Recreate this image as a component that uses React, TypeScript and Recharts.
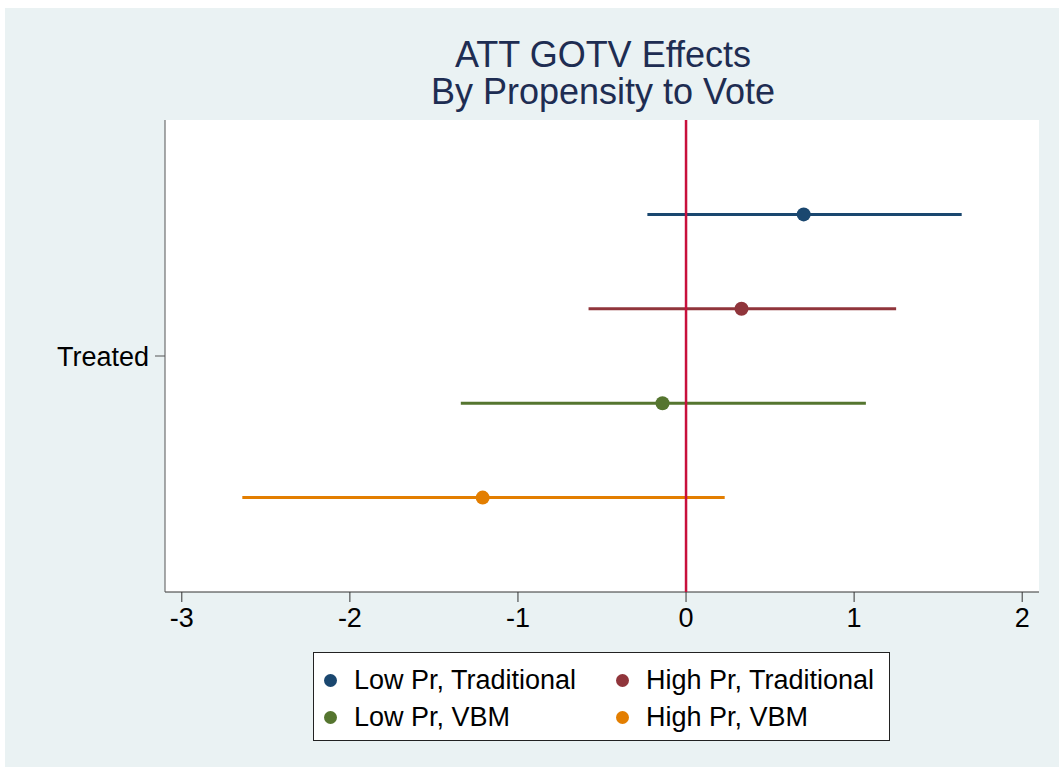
import React from 'react';
import { ComposedChart, Scatter, XAxis, YAxis, CartesianGrid } from 'recharts';

const seriesNames = ['Low Pr, Traditional', 'High Pr, Traditional', 'Low Pr, VBM', 'High Pr, VBM'];
const estimates = [0.70, 0.33, -0.14, -1.21];
const lowerCI = [-0.23, -0.58, -1.34, -2.64];
const upperCI = [1.64, 1.25, 1.07, 0.23];
const rowIndex = [4, 3, 2, 1];
const seriesColors = ['#1a476f', '#90353b', '#55752f', '#e37e00'];
const xTicks = [-3, -2, -1, 0, 1, 2];
const yTicks = [2.5];
const yTickLabels = ['Treated'];
const zeroLine = [{ x: 0, y: 0 }, { x: 0, y: 5 }];

const FONT = '"Liberation Sans", Arial, Helvetica, sans-serif';

const App: React.FC = () => {
  const points = seriesNames.map((name, i) => ({ name, x: estimates[i], y: rowIndex[i] }));
  const intervals = seriesNames.map((name, i) => [
    { x: lowerCI[i], y: rowIndex[i] },
    { x: upperCI[i], y: rowIndex[i] },
  ]);

  return (
    <div style={{ position: 'absolute', left: 0, top: 0, width: 1059, height: 767, background: '#fff', fontFamily: FONT }}>
      <div style={{ position: 'absolute', left: 5, top: 8, width: 1054, height: 759, background: '#eaf2f3' }} />
      <div
        style={{
          position: 'absolute', left: 165, width: 876, top: 36, textAlign: 'center',
          fontSize: 36, lineHeight: '37px', color: '#1e2d52',
        }}
      >
        <div>ATT GOTV Effects</div>
        <div>By Propensity to Vote</div>
      </div>
      <div style={{ position: 'absolute', left: 0, top: 0 }}>
        <ComposedChart width={1059} height={767} margin={{ top: 120, right: 20, left: 0, bottom: 135 }}>
          <CartesianGrid horizontal={false} vertical={false} fill="#ffffff" />
          <XAxis
            type="number"
            dataKey="x"
            domain={[-3.1, 2.1]}
            ticks={xTicks}
            allowDataOverflow
            height={40}
            tickSize={10}
            tickMargin={6}
            stroke="#333"
            tick={{ fill: '#000', fontSize: 27, fontFamily: FONT }}
          />
          <YAxis
            type="number"
            dataKey="y"
            domain={[0, 5]}
            ticks={yTicks}
            tickFormatter={(v: number) => yTickLabels[yTicks.indexOf(v)] ?? ''}
            width={165}
            tickSize={10}
            tickMargin={6}
            stroke="#555"
            tick={{ fill: '#000', fontSize: 27, fontFamily: FONT }}
          />
          {intervals.map((seg, i) => (
            <Scatter
              key={`ci-${i}`}
              data={seg}
              line={{ stroke: seriesColors[i], strokeWidth: 3 }}
              shape={() => <g />}
              isAnimationActive={false}
            />
          ))}
          <Scatter
            data={zeroLine}
            line={{ stroke: '#c8103c', strokeWidth: 2.5 }}
            shape={() => <g />}
            isAnimationActive={false}
          />
          {points.map((d, i) => (
            <Scatter
              key={d.name}
              name={d.name}
              data={[d]}
              fill={seriesColors[i]}
              isAnimationActive={false}
              shape={(props: any) => <circle cx={props.cx} cy={props.cy} r={7} fill={seriesColors[i]} />}
            />
          ))}
        </ComposedChart>
      </div>
      <div
        style={{
          position: 'absolute', left: 313, top: 652, width: 575, height: 87,
          background: '#fff', border: '1px solid #222', fontSize: 27, color: '#000',
        }}
      >
        {seriesNames.map((name, i) => (
          <div
            key={name}
            style={{
              position: 'absolute',
              left: i % 2 === 0 ? 10 : 302,
              top: i < 2 ? 9 : 46,
              height: 36,
              display: 'flex',
              alignItems: 'center',
              whiteSpace: 'nowrap',
            }}
          >
            <span style={{ display: 'inline-block', width: 13, height: 13, borderRadius: '50%', background: seriesColors[i], marginRight: 17 }} />
            {name}
          </div>
        ))}
      </div>
    </div>
  );
};

export default App;
